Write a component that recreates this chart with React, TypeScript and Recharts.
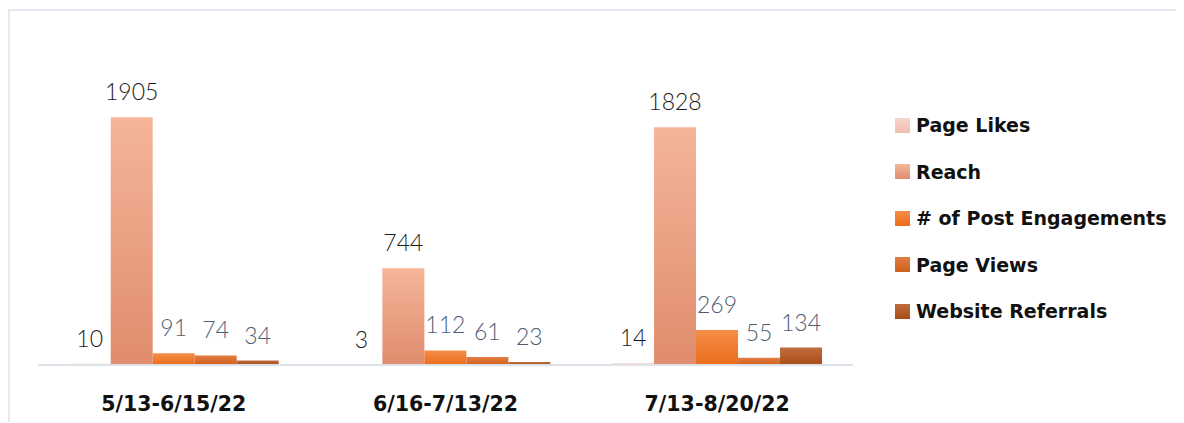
import { BarChart, Bar, XAxis, YAxis, LabelList } from 'recharts'

const periods = ['5/13-6/15/22', '6/16-7/13/22', '7/13-8/20/22']
const pageLikes = [10, 3, 14]
const reach = [1905, 744, 1828]
const postEngagements = [91, 112, 269]
const pageViews = [74, 61, 55]
const websiteReferrals = [34, 23, 134]

const series = [
  { key: 'pageLikes', name: 'Page Likes', top: '#f8d5ca', bottom: '#f0beb0', label: '#1a1a1a' },
  { key: 'reach', name: 'Reach', top: '#f5b598', bottom: '#e08c6e', label: '#1a1a1a' },
  { key: 'postEngagements', name: '# of Post Engagements', top: '#f58d48', bottom: '#ea6d1a', label: '#4f5d73' },
  { key: 'pageViews', name: 'Page Views', top: '#e27d40', bottom: '#cf601e', label: '#4f5d73' },
  { key: 'websiteReferrals', name: 'Website Referrals', top: '#c06b3e', bottom: '#a84d17', label: '#4f5d73' },
]

const data = periods.map((p, i) => ({
  period: p,
  pageLikes: pageLikes[i],
  reach: reach[i],
  postEngagements: postEngagements[i],
  pageViews: pageViews[i],
  websiteReferrals: websiteReferrals[i],
}))

const AxisTick = (props: any) => {
  const { x, y, payload } = props
  return (
    <text
      x={x}
      y={y + 38}
      textAnchor="middle"
      fill="#111"
      style={{ fontFamily: '"DejaVu Sans", sans-serif', fontWeight: 700, fontSize: 20.5 }}
    >
      {payload.value}
    </text>
  )
}

const LegendList = () => (
  <div
    style={{
      position: 'absolute',
      left: 885,
      top: 91,
      fontFamily: '"DejaVu Sans", sans-serif',
      fontWeight: 700,
      fontSize: 19,
      color: '#111',
    }}
  >
    {series.map((s) => (
      <div key={s.key} style={{ height: 46.5, display: 'flex', alignItems: 'center', whiteSpace: 'nowrap' }}>
        <span
          style={{
            width: 15,
            height: 15,
            marginRight: 6,
            background: `linear-gradient(${s.top}, ${s.bottom})`,
          }}
        />
        {s.name}
      </div>
    ))}
  </div>
)

export default function App() {
  return (
    <div
      style={{
        position: 'relative',
        top: 1,
        width: 1174,
        height: 412,
        borderTop: '2px solid #e4e8f0',
        borderLeft: '2px solid #e4e8f0',
        background: '#fff',
      }}
    >
      <BarChart
        width={1174}
        height={412}
        data={data}
        margin={{ top: 94, right: 331, left: 28, bottom: 18 }}
        barCategoryGap="11.3%"
        barGap={0}
      >
        <defs>
          {series.map((s) => (
            <linearGradient key={s.key} id={`g-${s.key}`} x1="0" y1="0" x2="0" y2="1">
              <stop offset="0%" stopColor={s.top} />
              <stop offset="100%" stopColor={s.bottom} />
            </linearGradient>
          ))}
        </defs>
        <XAxis
          dataKey="period"
          tick={<AxisTick />}
          tickLine={false}
          axisLine={{ stroke: '#dde2ea', strokeWidth: 2 }}
          height={40}
          interval={0}
        />
        <YAxis hide domain={[0, 2000]} />
        {series.map((s) => (
          <Bar
            key={s.key}
            dataKey={s.key}
            name={s.name}
            fill={`url(#g-${s.key})`}
            isAnimationActive={false}
          >
            <LabelList
              dataKey={s.key}
              position="top"
              offset={17}
              fill={s.label}
              style={{ fontFamily: 'Lato, sans-serif', fontWeight: 300, fontSize: 23 }}
            />
          </Bar>
        ))}
      </BarChart>
      <LegendList />
    </div>
  )
}
